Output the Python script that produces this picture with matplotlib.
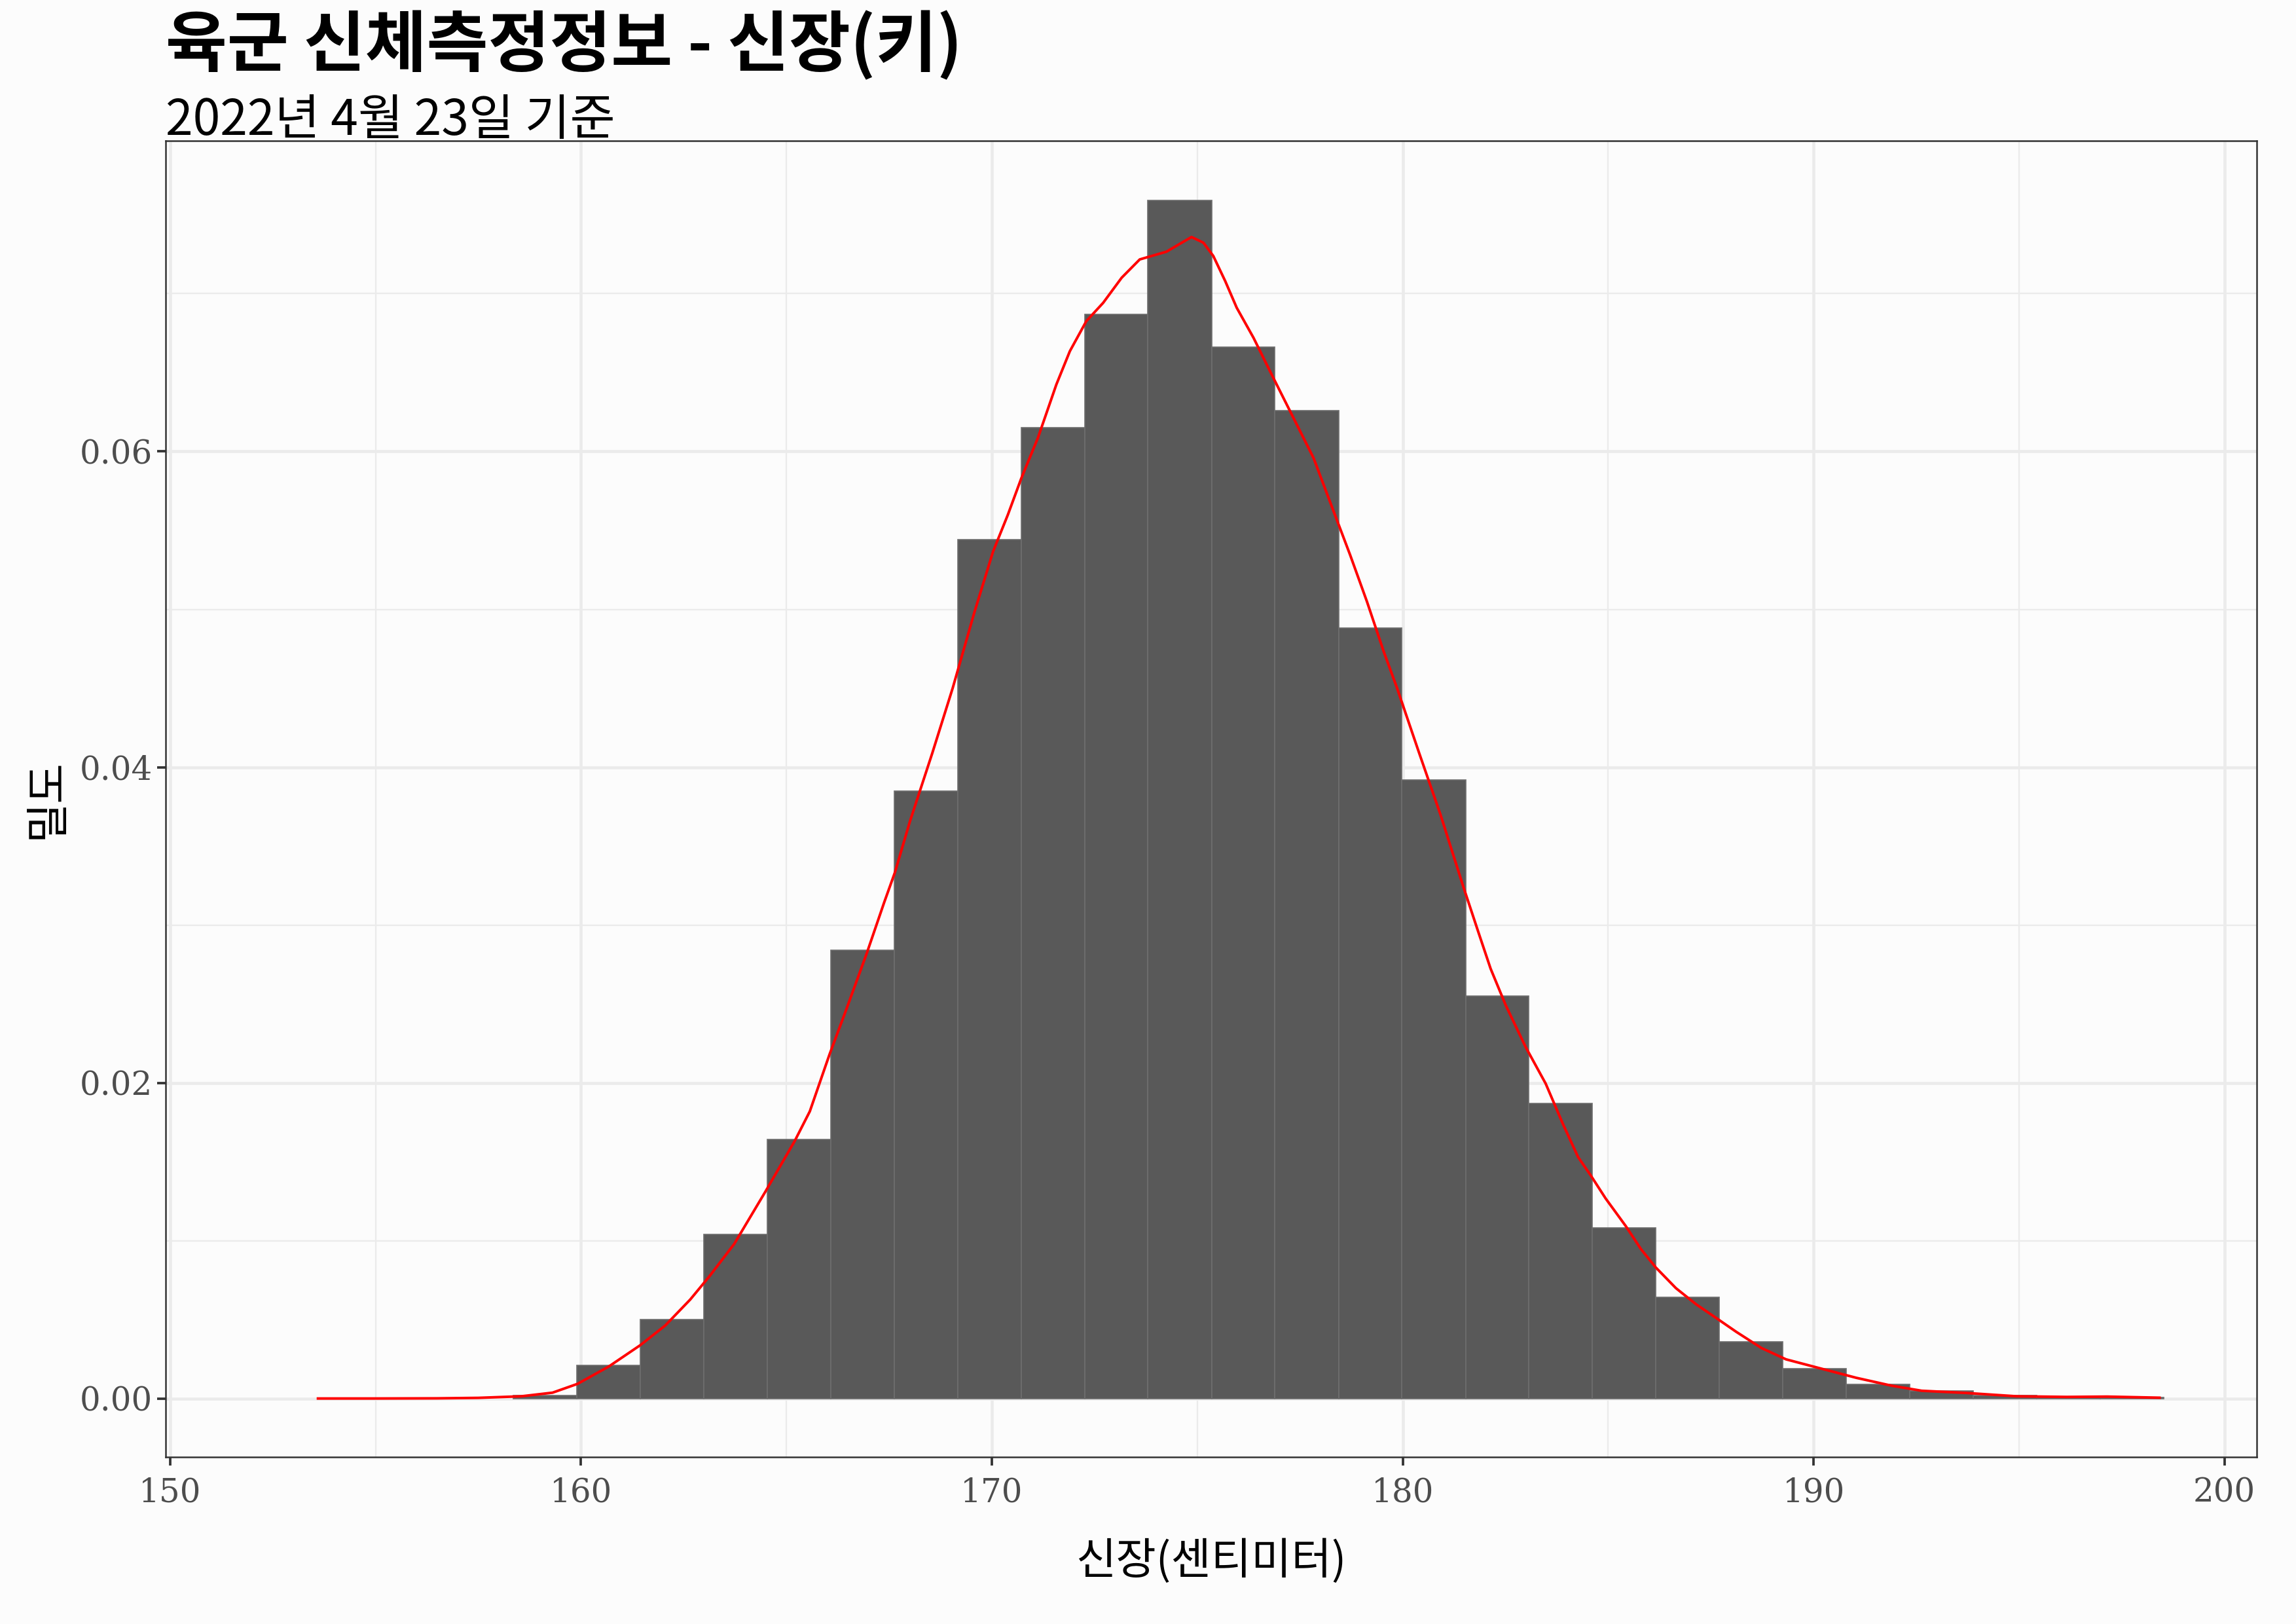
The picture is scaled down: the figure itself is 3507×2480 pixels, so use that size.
import numpy as np
import matplotlib
matplotlib.use("Agg")
import matplotlib.pyplot as plt
from matplotlib.ticker import MultipleLocator, FormatStrFormatter

plt.rcParams['font.family'] = ['Noto Sans CJK KR', 'DejaVu Sans']

# histogram (density scale), edges and heights
bin_edges = [158.36, 159.90, 161.45, 162.99, 164.54, 166.08, 167.63, 169.17,
             170.72, 172.26, 173.80, 175.35, 176.89, 178.44, 179.98, 181.53,
             183.07, 184.62, 186.16, 187.71, 189.25, 190.80, 192.34, 193.89,
             195.43, 196.98, 198.52]
bin_density = [0.0002, 0.0021, 0.0050, 0.0104, 0.0164, 0.0284, 0.0385, 0.0544,
               0.0615, 0.0687, 0.0759, 0.0666, 0.0626, 0.0488, 0.0392, 0.0255,
               0.0187, 0.0108, 0.0064, 0.0036, 0.0019, 0.0009, 0.0005, 0.0002,
               0.0001, 0.00005]

# kernel density curve
kde_x = [153.6, 155.0, 156.5, 157.5, 158.55, 159.31, 159.92, 160.68, 161.44,
         162.05, 162.66, 163.12, 163.73, 164.49, 165.20, 165.57, 166.05, 166.42,
         166.95, 167.38, 167.64, 168.01, 168.55, 169.05, 169.58, 170.03, 170.39,
         170.72, 171.12, 171.57, 171.90, 172.30, 172.71, 173.16, 173.60, 174.25,
         174.86, 175.15, 175.39, 175.68, 175.96, 176.37, 176.77, 177.26, 177.83,
         178.32, 178.72, 179.13, 179.54, 179.86, 180.40, 180.92, 181.47, 181.84,
         182.14, 182.51, 182.99, 183.48, 183.91, 184.27, 184.58, 184.94, 185.43,
         185.80, 186.16, 186.65, 187.14, 187.63, 188.12, 188.73, 189.33, 190.19,
         191.04, 191.90, 192.63, 193.72, 194.94, 196.16, 197.14, 198.42]
kde_y = [0.0, 0.0, 0.00001, 0.00004, 0.00014, 0.00037, 0.00093, 0.00203, 0.00337,
         0.00462, 0.00627, 0.00772, 0.00979, 0.01311, 0.0163, 0.01819, 0.0218, 0.02438,
         0.02816, 0.03143, 0.03332, 0.03659, 0.04088, 0.04503, 0.04985, 0.05366, 0.05599,
         0.05832, 0.06085, 0.06424, 0.06636, 0.06826, 0.06942, 0.07101, 0.07217, 0.07266,
         0.07359, 0.07323, 0.07239, 0.07080, 0.06911, 0.06720, 0.06509, 0.06255, 0.05959,
         0.05620, 0.05345, 0.05049, 0.04731, 0.04503, 0.04090, 0.03699, 0.03247, 0.02956,
         0.02723, 0.0249, 0.02228, 0.01995, 0.01733, 0.01529, 0.01412, 0.01267, 0.01092,
         0.00946, 0.0083, 0.00699, 0.00597, 0.0051, 0.00422, 0.0032, 0.00248, 0.00189,
         0.00131, 0.00081, 0.00049, 0.00035, 0.00014, 0.0001, 0.00012, 0.00005]

title = "육군 신체측정정보 - 신장(키)"
subtitle = "2022년 4월 23일 기준"
xlabel = "신장(센티미터)"
ylabel = "밀도"

bg = '#FCFCFC'
fig = plt.figure(figsize=(11.69, 8.267), dpi=300, facecolor=bg)
ax = fig.add_axes([0.0721, 0.1028, 0.9107, 0.8106])
ax.set_facecolor(bg)

edges = np.array(bin_edges)
ax.bar(edges[:-1], bin_density, width=np.diff(edges), align='edge',
       color='#595959', edgecolor='#6E6E6E', linewidth=0.4, zorder=2)
ax.plot(kde_x, kde_y, color='red', lw=0.95, zorder=3, solid_joinstyle='round')

ax.set_xlim(149.89, 200.78)
ax.set_ylim(-0.00371, 0.0797)
ax.xaxis.set_major_locator(MultipleLocator(10))
ax.xaxis.set_minor_locator(MultipleLocator(5))
ax.yaxis.set_major_locator(MultipleLocator(0.02))
ax.yaxis.set_minor_locator(MultipleLocator(0.01))
ax.yaxis.set_major_formatter(FormatStrFormatter('%.2f'))

ax.grid(which='major', color='#EBEBEB', lw=1.1, zorder=0)
ax.grid(which='minor', color='#EBEBEB', lw=0.55, zorder=0)
ax.set_axisbelow(True)

for s in ax.spines.values():
    s.set_color('#333333')
    s.set_linewidth(0.6)

ax.tick_params(which='major', length=3.2, width=0.9, color='#333333',
               labelcolor='#4D4D4D', labelsize=12)
ax.tick_params(axis='x', pad=4)
ax.tick_params(axis='y', pad=1.5)
ax.tick_params(which='minor', length=0)
for lab in ax.get_xticklabels() + ax.get_yticklabels():
    lab.set_fontfamily('DejaVu Serif')

ax.set_xlabel(xlabel, fontsize=16, color='black', labelpad=11)
ax.set_ylabel(ylabel, fontsize=16, color='black', labelpad=4)

fig.text(0.0721, 0.959, title, fontsize=24.5, fontweight='bold', ha='left', va='baseline')
fig.text(0.0721, 0.917, subtitle, fontsize=18, ha='left', va='baseline')

fig.savefig('out.png', dpi=300, facecolor=bg)
